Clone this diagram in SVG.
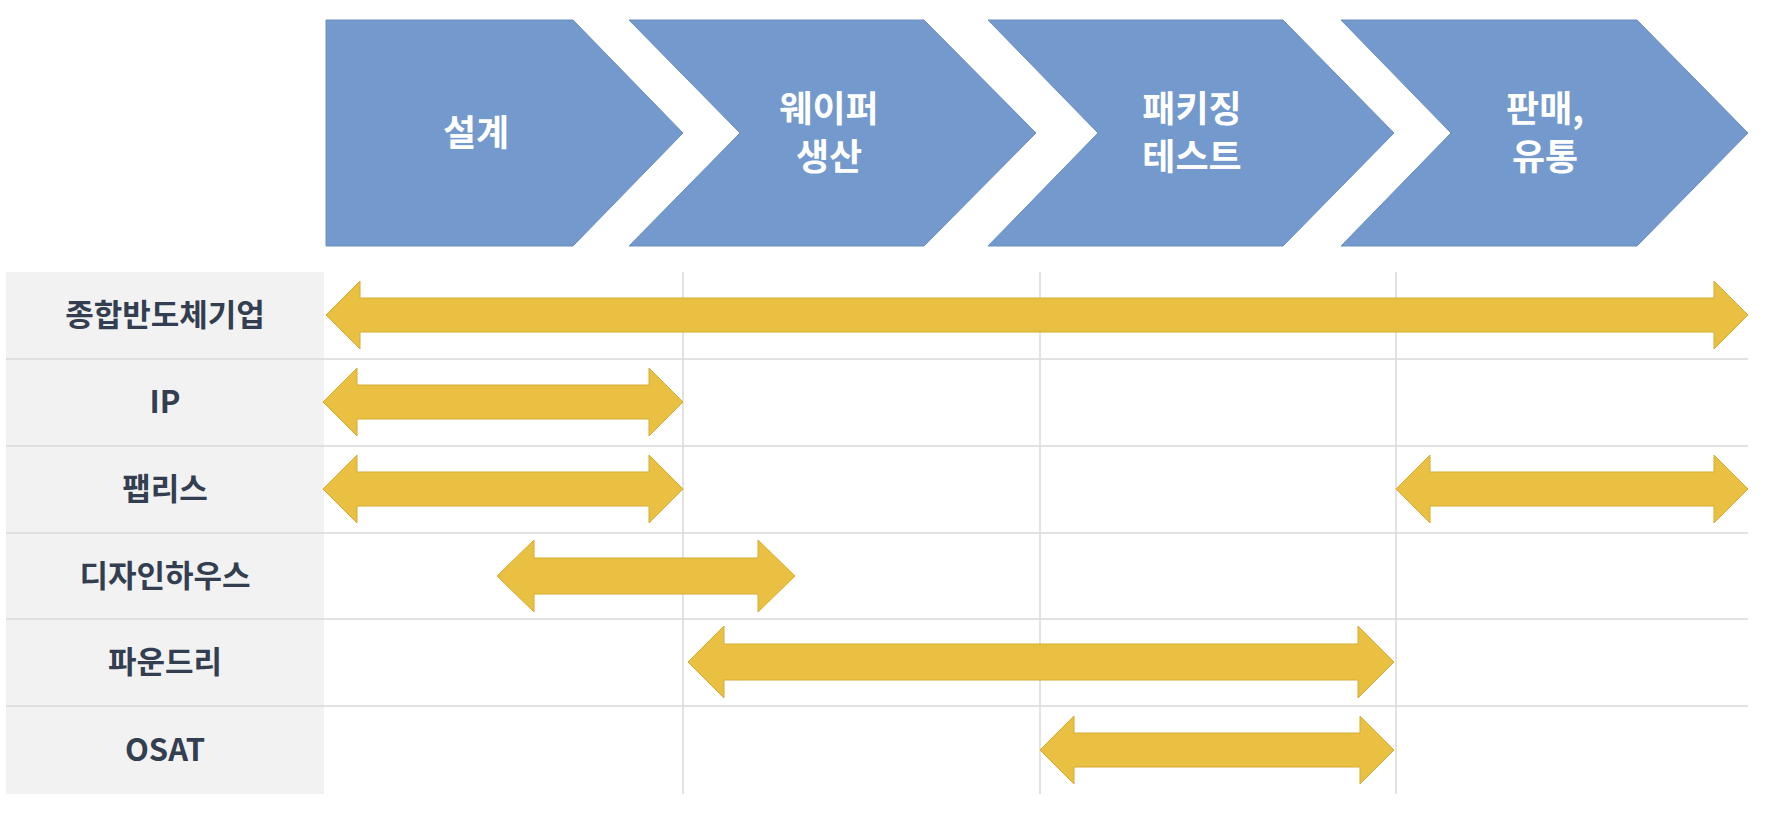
<svg xmlns="http://www.w3.org/2000/svg" width="1765" height="817" viewBox="0 0 1765 817">
<style>
.chev{fill:#7399cd;stroke:#6a8fc2;stroke-width:1}
.ct{font-family:"Noto Sans CJK KR","Liberation Sans",sans-serif;font-weight:bold;font-size:36px;fill:#fff;text-anchor:middle}
.lab{font-family:"Noto Sans CJK KR","Liberation Sans",sans-serif;font-weight:bold;font-size:31px;fill:#333f50;text-anchor:middle}
.arr{fill:#e9c042;stroke:#d4ac30;stroke-width:1}
.grid{stroke:#d9d9d9;stroke-width:1.5}
</style>
<rect width="1765" height="817" fill="#fff"/>
<g id="chevrons">
<g id="c1"><polygon class="chev" points="326,20 573,20 683,133 573,246 326,246"/><text class="ct" x="476" y="146">설계</text></g>
<g id="c2"><polygon class="chev" points="629,20 924,20 1036,133 924,246 629,246 740,133"/><text class="ct" x="829" y="122">웨이퍼</text><text class="ct" x="829" y="170">생산</text></g>
<g id="c3"><polygon class="chev" points="988,20 1283,20 1394,133 1283,246 988,246 1098,133"/><text class="ct" x="1192" y="122">패키징</text><text class="ct" x="1192" y="170">테스트</text></g>
<g id="c4"><polygon class="chev" points="1341,20 1637,20 1748,133 1637,246 1341,246 1451,133"/><text class="ct" x="1545" y="122">판매,</text><text class="ct" x="1545" y="170">유통</text></g>
</g>
<g id="table">
<rect x="6" y="272" width="318" height="522" fill="#f2f2f2"/>
<g class="grid">
<line x1="6" y1="359" x2="1748" y2="359"/><line x1="6" y1="446" x2="1748" y2="446"/><line x1="6" y1="533" x2="1748" y2="533"/><line x1="6" y1="619" x2="1748" y2="619"/><line x1="6" y1="706" x2="1748" y2="706"/>
<line x1="683" y1="272" x2="683" y2="794"/><line x1="1040" y1="272" x2="1040" y2="794"/><line x1="1396" y1="272" x2="1396" y2="794"/>
</g>
</g>
<g id="labels">
<text class="lab" x="165" y="326">종합반도체기업</text>
<text class="lab" x="165" y="413">IP</text>
<text class="lab" x="165" y="500">팹리스</text>
<text class="lab" x="165" y="587">디자인하우스</text>
<text class="lab" x="165" y="673">파운드리</text>
<text class="lab" x="165" y="761">OSAT</text>
</g>
<g id="connectors">
<polygon class="arr" points="326,315 360,281 360,298 1714,298 1714,281 1748,315 1714,349 1714,332 360,332 360,349"/>
<polygon class="arr" points="323,402 357,368 357,385 649,385 649,368 683,402 649,436 649,419 357,419 357,436"/>
<polygon class="arr" points="323,489 357,455 357,472 649,472 649,455 683,489 649,523 649,506 357,506 357,523"/>
<polygon class="arr" points="1396,489 1430,455 1430,472 1714,472 1714,455 1748,489 1714,523 1714,506 1430,506 1430,523"/>
<polygon class="arr" points="497,576 534,540 534,558 758,558 758,540 795,576 758,612 758,594 534,594 534,612"/>
<polygon class="arr" points="688,662 724,626 724,644 1358,644 1358,626 1394,662 1358,698 1358,680 724,680 724,698"/>
<polygon class="arr" points="1040,750 1074,716 1074,733 1360,733 1360,716 1394,750 1360,784 1360,767 1074,767 1074,784"/>
</g>
</svg>
